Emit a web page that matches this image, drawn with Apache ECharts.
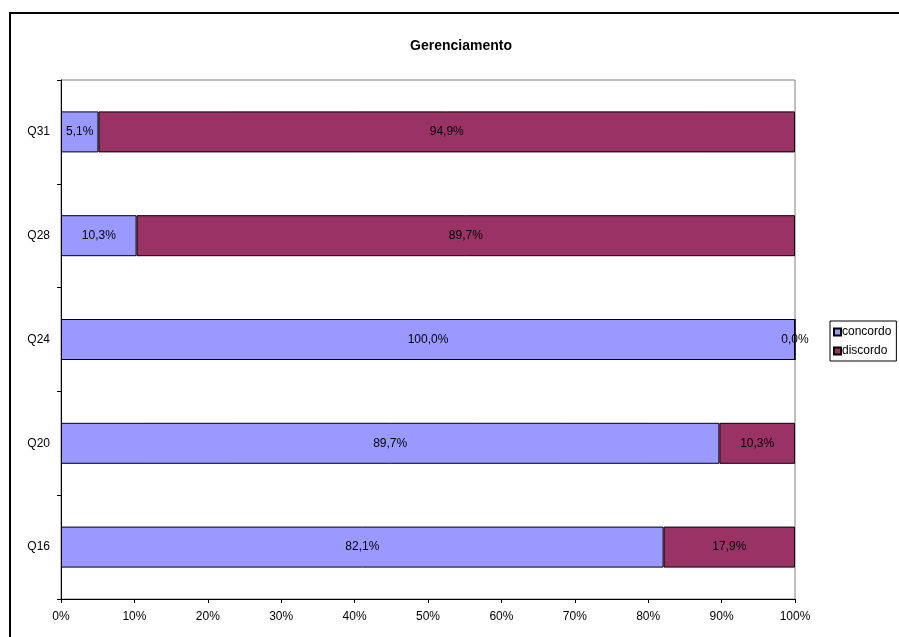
<!DOCTYPE html>
<html>
<head>
<meta charset="utf-8">
<script src="https://cdn.jsdelivr.net/npm/echarts@6/dist/echarts.min.js"></script>
<style>
html,body{margin:0;padding:0;background:#fff;}
#chart{width:899px;height:637px;}
</style>
</head>
<body>
<div id="chart"></div>
<script>
const categories = ['Q16', 'Q20', 'Q24', 'Q28', 'Q31'];
const concordo = [82.1, 89.7, 100.0, 10.3, 5.1];
const discordo = [17.9, 10.3, 0.0, 89.7, 94.9];
const seriesNames = ['concordo', 'discordo'];

const FONT = '"Liberation Sans", Arial, sans-serif';
const fmt = p => p.value.toFixed(1).replace('.', ',') + '%';

const chart = echarts.init(document.getElementById('chart'), null, {renderer: 'canvas'});
chart.setOption({
  animation: false,
  backgroundColor: '#fff',
  title: {
    text: 'Gerenciamento',
    left: 461, top: 39, textAlign: 'center', padding: 0,
    textStyle: {fontFamily: FONT, fontSize: 14, fontWeight: 'bold', color: '#000'}
  },
  graphic: [{
    type: 'rect', shape: {x: 10, y: 13, width: 900, height: 640},
    style: {fill: 'none', stroke: '#000', lineWidth: 2}, silent: true
  }],
  legend: {
    data: seriesNames,
    orient: 'vertical', left: 830, top: 321,
    icon: 'rect', itemWidth: 7, itemHeight: 7, itemGap: 7,
    padding: [5, 5, 4, 3],
    borderColor: '#000', borderWidth: 1,
    textStyle: {fontFamily: FONT, fontSize: 12, color: '#000', padding: [0, 0, 0, -4]}
  },
  grid: {
    left: 61, right: 104, top: 80, bottom: 38,
    show: true, borderColor: '#808080', borderWidth: 1, backgroundColor: 'transparent'
  },
  xAxis: {
    type: 'value', min: 0, max: 100, interval: 10,
    axisLine: {show: true, lineStyle: {color: '#000', width: 1}},
    axisTick: {show: true, length: 4, lineStyle: {color: '#000'}},
    splitLine: {show: false},
    axisLabel: {formatter: '{value}%', fontFamily: FONT, fontSize: 12, color: '#000', margin: 12}
  },
  yAxis: {
    type: 'category', data: categories,
    axisLine: {show: true, lineStyle: {color: '#000', width: 1}},
    axisTick: {show: true, length: 4, lineStyle: {color: '#000'}},
    axisLabel: {fontFamily: FONT, fontSize: 12, color: '#000', margin: 11}
  },
  series: [
    {
      name: 'concordo', type: 'bar', stack: 'total', data: concordo, barWidth: 41,
      itemStyle: {color: '#9999FF', borderColor: '#000', borderWidth: 1},
      label: {show: true, position: 'inside', formatter: fmt, fontFamily: FONT, fontSize: 12, color: '#000'}
    },
    {
      name: 'discordo', type: 'bar', stack: 'total', data: discordo, barWidth: 41,
      itemStyle: {color: '#993366', borderColor: '#000', borderWidth: 1},
      label: {show: true, position: 'inside', formatter: fmt, fontFamily: FONT, fontSize: 12, color: '#000'}
    }
  ]
});
</script>
</body>
</html>
